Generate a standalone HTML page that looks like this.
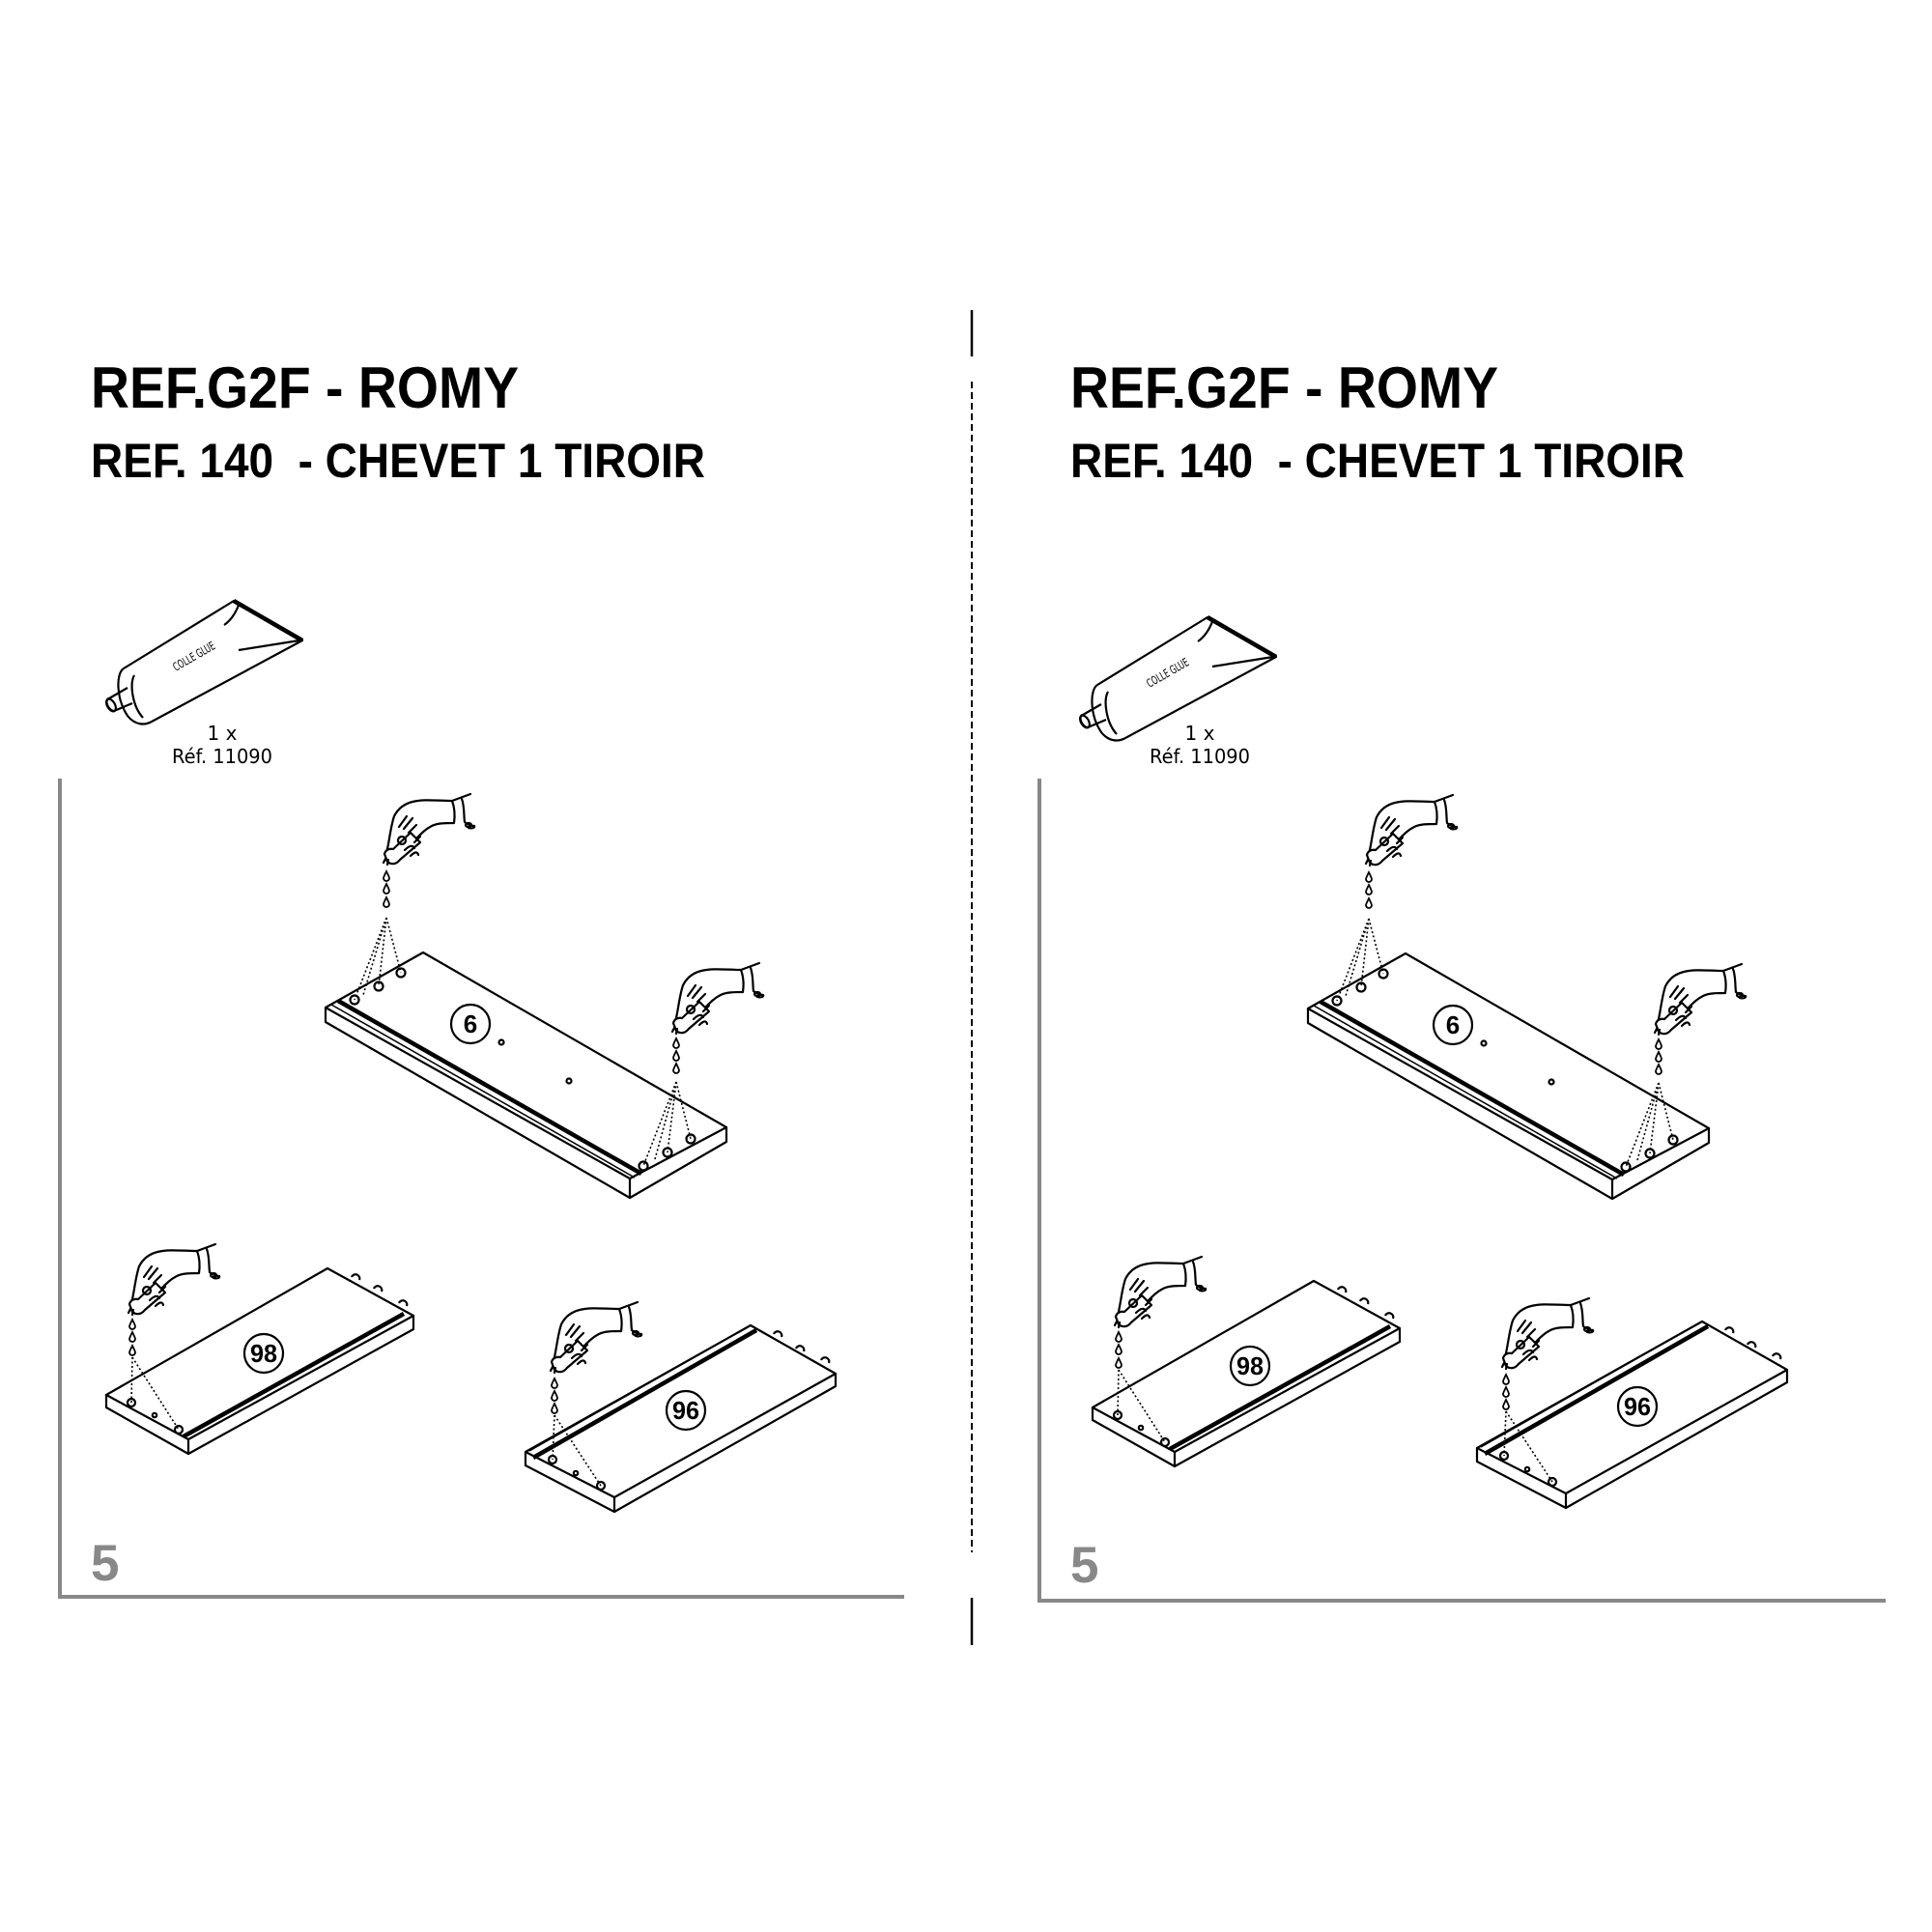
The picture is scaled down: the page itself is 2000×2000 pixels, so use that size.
<!DOCTYPE html>
<html><head><meta charset="utf-8"><style>html,body{margin:0;padding:0;background:#fff}svg{display:block}</style></head>
<body>
<svg width="2000" height="2000" viewBox="0 0 2000 2000" xmlns="http://www.w3.org/2000/svg">
<defs>
<g id="hand" fill="none" stroke="#000" stroke-width="2.2" stroke-linejoin="round" stroke-linecap="round">
  <path d="M-1,-9 C2,-20 3,-35 7,-47 C11,-55 18,-60 26,-62 C38,-65 52,-63 67,-63 L86,-70"/>
  <path d="M67,-63 C70,-55 70,-47 69,-40 C60,-40 52,-40 46,-37 C40,-34 36,-30 31,-25"/>
  <path d="M77,-65 C80,-57 79,-48 80,-41 C84,-38 88,-37 90,-37 C91,-35 87,-34 84,-35"/>
  <ellipse cx="84" cy="-38" rx="3" ry="2"/>
  <path d="M0,0 L-3,-8 C-2,-12 2,-14 6,-13 L24,-30 L34,-20 L13,-2 C10,2 5,4 0,0 Z" fill="#fff"/>
  <path d="M-2,-3 L-4,1 M1,-2 L0,3"/>
  <circle cx="15" cy="-22" r="4"/>
  <path d="M12,-36 L20,-47 M17,-34 L26,-45 M22,-30 L30,-38"/>
  <path d="M18,-12 C22,-16 26,-18 28,-14 M24,-6 C28,-10 31,-11 32,-7 M28,-20 L34,-26"/>
</g>
<g id="drop"><path d="M0,-5 C2,-1 3,1 3,2 A3,3 0 0 1 -3,2 C-3,1 -2,-1 0,-5 Z" fill="#fff" stroke="#000" stroke-width="1.8"/></g>
<g id="tube" fill="none" stroke="#000" stroke-width="2.2" stroke-linejoin="round">
  <path d="M1136,709 L1250,639 L1321,680 L1165,764"/>
  <path d="M1250,639 L1321,680" stroke-width="4.5"/>
  <path d="M1256,641 C1252,652 1246,660 1240,664 M1255,690 L1318,680"/>
  <path d="M1136,709 C1128,714 1128,740 1140,758 C1148,768 1158,768 1165,764"/>
  <path d="M1147,716 C1142,725 1145,748 1156,760"/>
  <path d="M1140,729 L1121,740 A4,7 -30 0 0 1126,753 L1145,745"/>
  <ellipse cx="1123" cy="747" rx="4" ry="7" transform="rotate(-30 1123 747)"/>
</g>
</defs>

<!-- divider -->
<line x1="1006" y1="321" x2="1006" y2="369" stroke="#000" stroke-width="2.5"/>
<line x1="1006" y1="395" x2="1006" y2="1607" stroke="#000" stroke-width="2" stroke-dasharray="7 4"/>
<line x1="1006" y1="1654" x2="1006" y2="1703" stroke="#000" stroke-width="2.5"/>

<!-- titles -->
<g font-family="Liberation Sans, Arial, sans-serif" font-weight="bold" fill="#000">
  <text x="94" y="422" font-size="60" textLength="443" lengthAdjust="spacingAndGlyphs">REF.G2F - ROMY</text>
  <text x="94" y="494" font-size="50" textLength="636" lengthAdjust="spacingAndGlyphs">REF. 140&#160; - CHEVET 1 TIROIR</text>
  <text x="1108" y="422" font-size="60" textLength="443" lengthAdjust="spacingAndGlyphs">REF.G2F - ROMY</text>
  <text x="1108" y="494" font-size="50" textLength="636" lengthAdjust="spacingAndGlyphs">REF. 140&#160; - CHEVET 1 TIROIR</text>
  <text x="94" y="1636" font-size="53" fill="#888">5</text>
  <text x="1108" y="1638" font-size="53" fill="#888">5</text>
</g>

<!-- tubes -->
<use href="#tube"/>
<use href="#tube" transform="translate(-1008,-17)"/>
<g font-family="DejaVu Sans, sans-serif" font-size="12" fill="#000">
  <text x="1190" y="712" transform="rotate(-30 1190 712)" textLength="48" lengthAdjust="spacingAndGlyphs">COLLE GLUE</text>
  <text x="182" y="695" transform="rotate(-30 182 695)" textLength="48" lengthAdjust="spacingAndGlyphs">COLLE GLUE</text>
</g>
<g font-family="DejaVu Sans, sans-serif" font-size="20" fill="#000" text-anchor="middle">
  <text x="1242" y="766">1 x</text>
  <text x="1242" y="790" textLength="104" lengthAdjust="spacingAndGlyphs">Réf. 11090</text>
  <text x="230" y="766">1 x</text>
  <text x="230" y="790" textLength="104" lengthAdjust="spacingAndGlyphs">Réf. 11090</text>
</g>

<!-- frames -->
<path d="M62,806 L62,1653 L936,1653" fill="none" stroke="#888" stroke-width="4"/>
<path d="M1076,806 L1076,1657 L1952,1657" fill="none" stroke="#888" stroke-width="4"/>

<!-- LEFT PANEL DRAWINGS -->
<g id="s6">
 <g fill="none" stroke="#000" stroke-width="2.2" stroke-linejoin="round">
  <path d="M337,1043 L438,986 L752,1167 L652,1220 Z" fill="#fff"/>
  <path d="M337,1043 L337,1058 L652,1240 L752,1182 L752,1167 M652,1220 L652,1240"/>
  <line x1="350" y1="1036" x2="664" y2="1215" stroke-width="4.5"/>
  <line x1="343" y1="1040" x2="657" y2="1219" stroke-width="1.5"/>
  <circle cx="367" cy="1035" r="4.5"/><circle cx="392" cy="1021" r="4.5"/><circle cx="415" cy="1007" r="4.5"/>
  <circle cx="666" cy="1207" r="4.5"/><circle cx="691" cy="1193" r="4.5"/><circle cx="715" cy="1179" r="4.5"/>
  <circle cx="487" cy="1060" r="20"/>
  <circle cx="519" cy="1079" r="2.5"/><circle cx="589" cy="1119" r="2.5"/>
  <path d="M400,950 L367,1035 M400,950 L392,1021 M400,950 L415,1007 M400,950 L376,1030 M700,1120 L666,1207 M700,1120 L691,1193 M700,1120 L715,1179 M700,1120 L678,1200" stroke-width="1.6" stroke-dasharray="2 2.5"/>
 </g>
 <use href="#hand" transform="translate(401,892)"/>
 <use href="#drop" transform="translate(400,907)"/><use href="#drop" transform="translate(400,920)"/><use href="#drop" transform="translate(400,934)"/>
 <use href="#hand" transform="translate(700,1067)"/>
 <use href="#drop" transform="translate(700,1080)"/><use href="#drop" transform="translate(700,1093)"/><use href="#drop" transform="translate(700,1106)"/>
</g>

<g id="s98">
 <g fill="none" stroke="#000" stroke-width="2.2" stroke-linejoin="round">
  <path d="M110,1444 L339,1313 L428,1362 L195,1490 Z" fill="#fff"/>
  <path d="M110,1444 L110,1457 L195,1505 L428,1376 L428,1362 M195,1490 L195,1505"/>
  <line x1="190" y1="1487" x2="418" y2="1360" stroke-width="4.5"/>
  <circle cx="136" cy="1452" r="4"/><circle cx="185" cy="1480" r="4"/><circle cx="160" cy="1465" r="2.2"/>
  <path d="M364,1322 a4,4 0 1 1 8,3 M387,1334 a4,4 0 1 1 8,3 M413,1349 a4,4 0 1 1 8,3"/>
  <circle cx="273" cy="1401" r="20"/>
  <path d="M137,1405 L136,1452 M137,1405 L185,1480" stroke-width="1.6" stroke-dasharray="2 2.5"/>
 </g>
 <use href="#hand" transform="translate(137,1358)"/>
 <use href="#drop" transform="translate(137,1371)"/><use href="#drop" transform="translate(137,1384)"/><use href="#drop" transform="translate(137,1398)"/>
</g>

<g id="s96">
 <g fill="none" stroke="#000" stroke-width="2.2" stroke-linejoin="round">
  <path d="M544,1503 L777,1372 L865,1422 L636,1550 Z" fill="#fff"/>
  <path d="M544,1503 L544,1517 L636,1565 L865,1435 L865,1422 M636,1550 L636,1565"/>
  <line x1="552" y1="1509" x2="783" y2="1377" stroke-width="4.5"/>
  <line x1="548" y1="1502" x2="777" y2="1372" stroke-width="1.5"/>
  <circle cx="572" cy="1511" r="4"/><circle cx="622" cy="1538" r="4"/><circle cx="596" cy="1525" r="2.2"/>
  <path d="M801,1381 a4,4 0 1 1 8,3 M824,1396 a4,4 0 1 1 8,3 M850,1408 a4,4 0 1 1 8,3"/>
  <circle cx="710" cy="1460" r="20"/>
  <path d="M574,1465 L572,1511 M574,1465 L622,1538" stroke-width="1.6" stroke-dasharray="2 2.5"/>
 </g>
 <use href="#hand" transform="translate(574,1418)"/>
 <use href="#drop" transform="translate(574,1432)"/><use href="#drop" transform="translate(574,1445)"/><use href="#drop" transform="translate(574,1458)"/>
</g>

<!-- RIGHT PANEL DRAWINGS -->
<use href="#s6" transform="translate(1017,1)"/>
<use href="#s98" transform="translate(1021,13)"/>
<use href="#s96" transform="translate(985,-4)"/>

<!-- labels -->
<g font-family="Liberation Sans, Arial, sans-serif" font-weight="bold" font-size="26" text-anchor="middle" fill="#000">
  <text x="487" y="1069">6</text>
  <text x="273" y="1410" textLength="28" lengthAdjust="spacingAndGlyphs">98</text>
  <text x="710" y="1469" textLength="28" lengthAdjust="spacingAndGlyphs">96</text>
  <text x="1504" y="1070">6</text>
  <text x="1294" y="1423" textLength="28" lengthAdjust="spacingAndGlyphs">98</text>
  <text x="1695" y="1465" textLength="28" lengthAdjust="spacingAndGlyphs">96</text>
</g>
</svg>
</body></html>
